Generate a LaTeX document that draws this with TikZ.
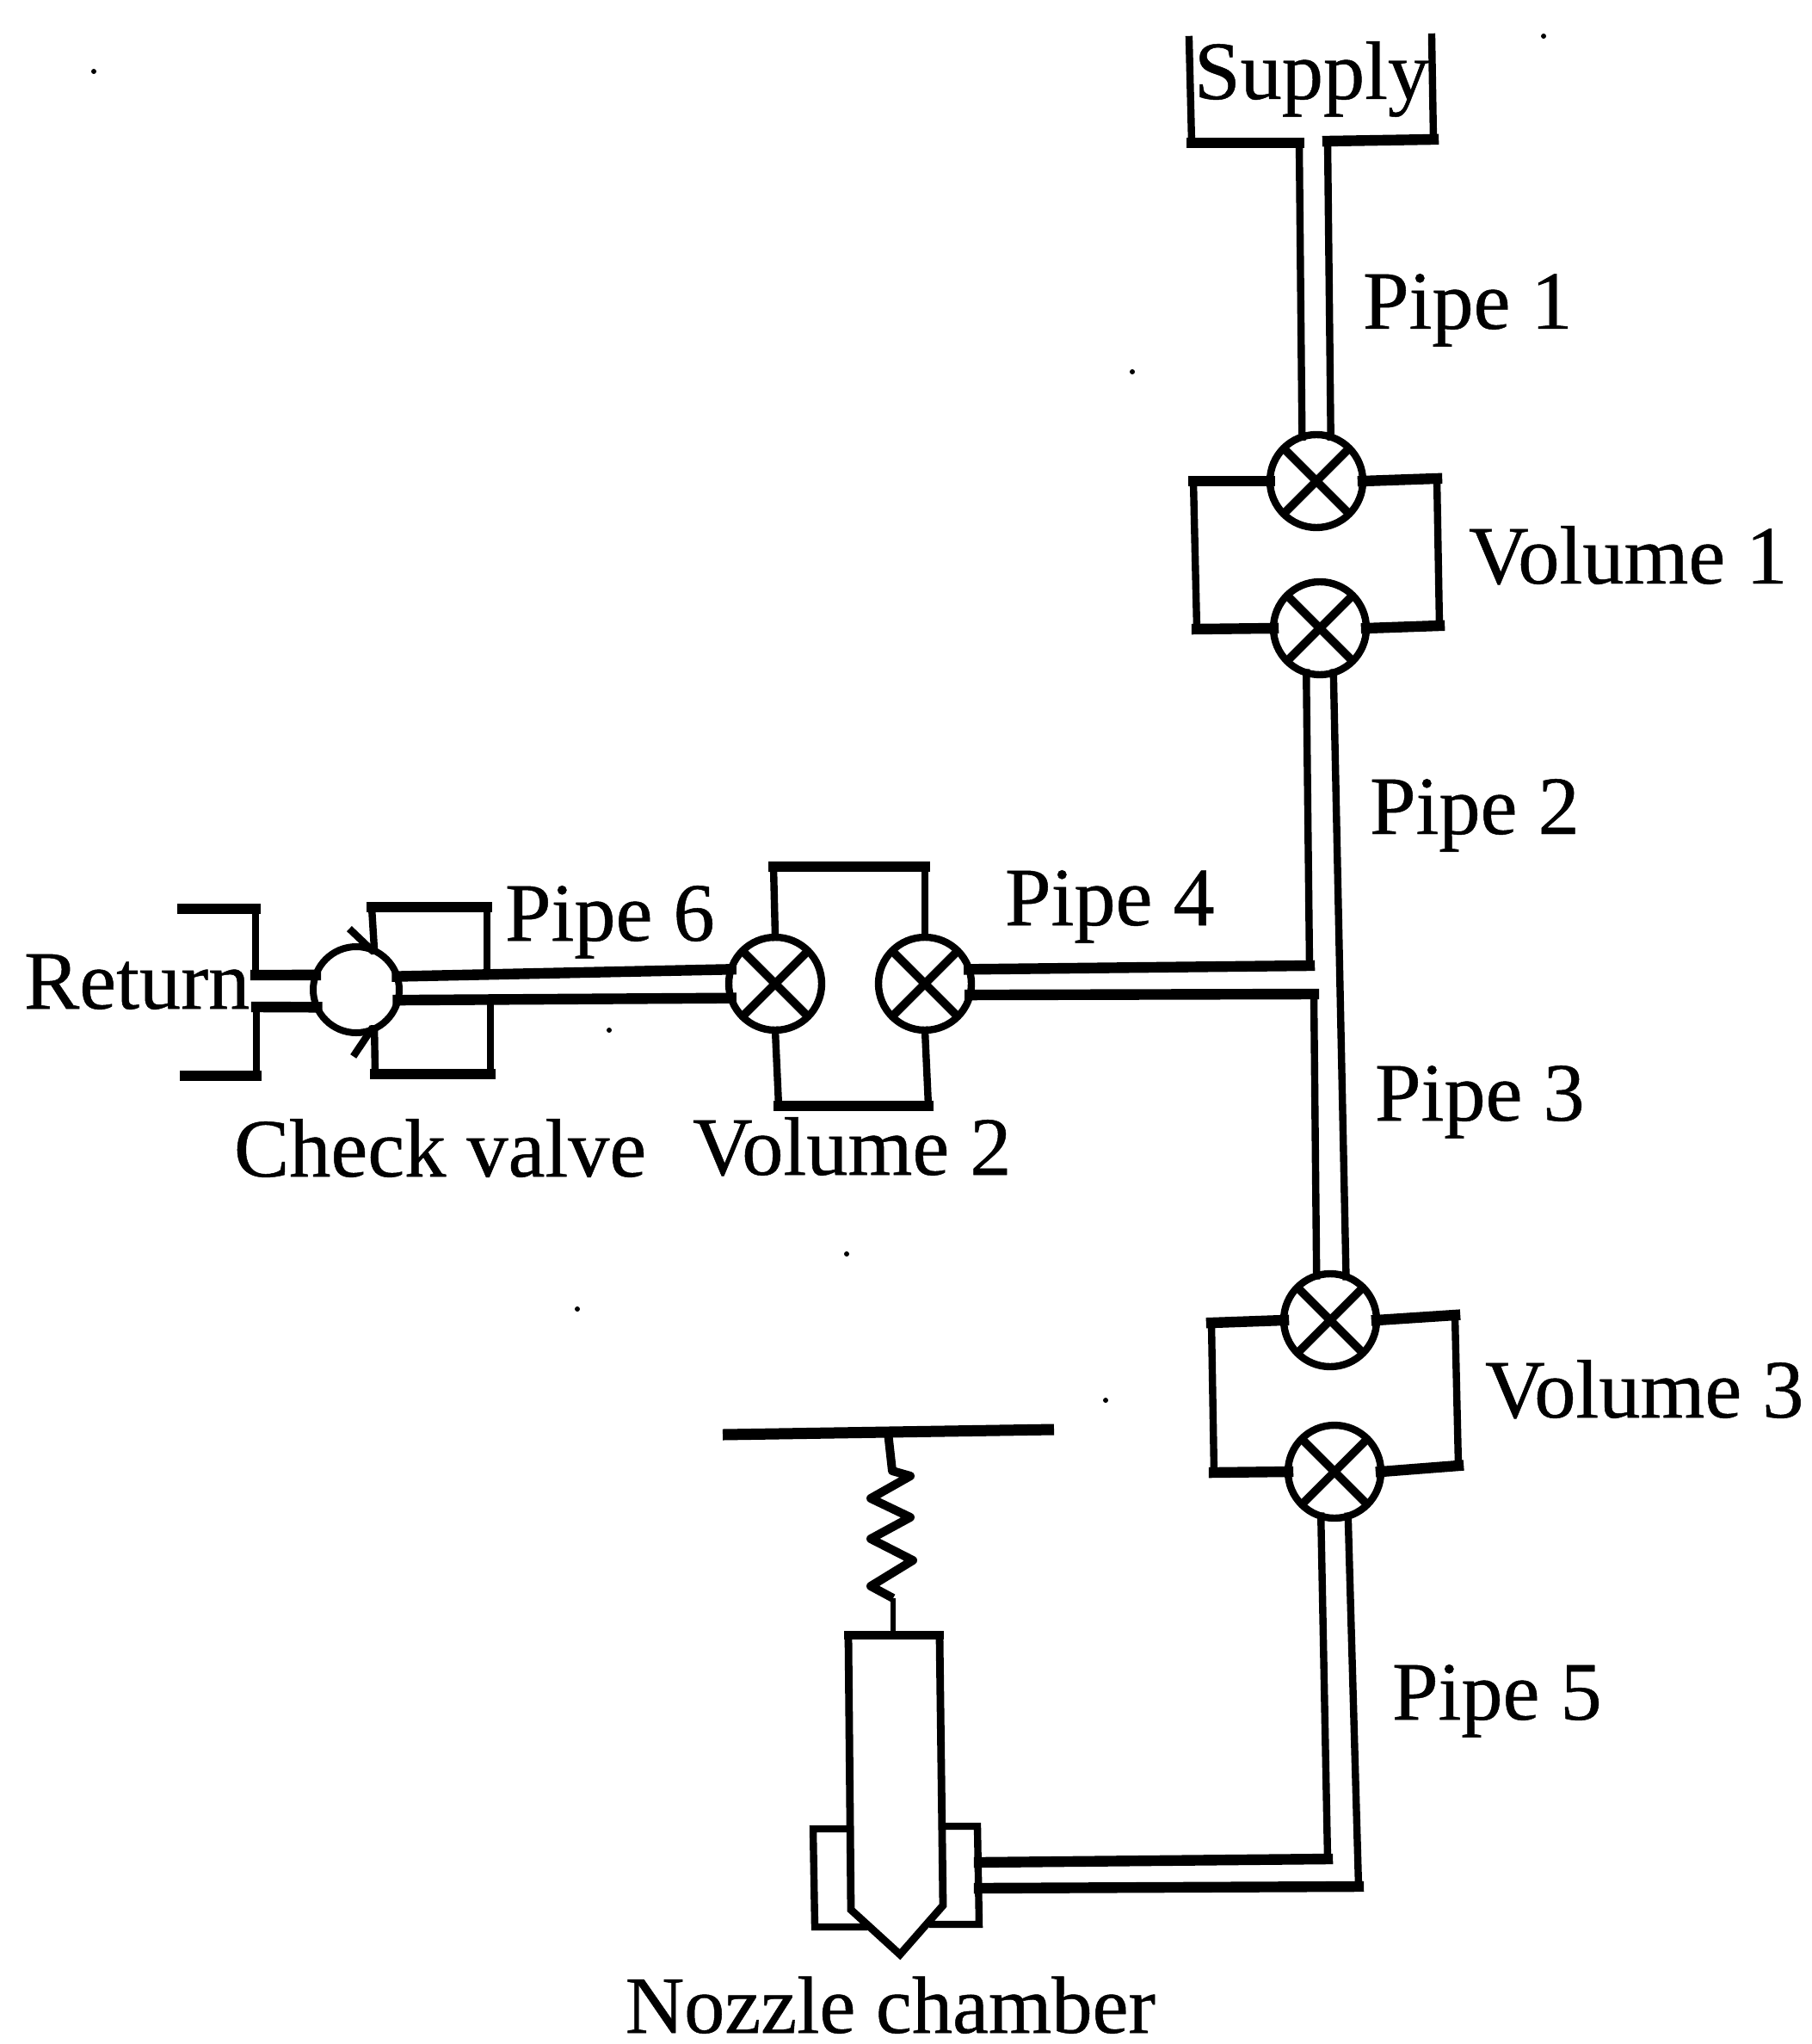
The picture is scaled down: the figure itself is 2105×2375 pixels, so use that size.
\documentclass[tikz,border=0pt]{standalone}
\usepackage{fontspec}
\setmainfont[FakeBold=0.5]{Liberation Serif}
\begin{document}
\begin{tikzpicture}[x=0.5pt,y=-0.5pt,
  hline/.style={line width=6.2pt,line cap=rect,black},
  vline/.style={line width=4.2pt,line cap=rect,black},
  valve/.style={circle,draw=black,line width=4.2pt,inner sep=0pt,outer sep=0pt,minimum size=54pt,fill=white,
    path picture={\draw[line width=4.8pt,black] (path picture bounding box.north west)--(path picture bounding box.south east)
      (path picture bounding box.north east)--(path picture bounding box.south west);}},
  checkv/.style={circle,draw=black,line width=4pt,inner sep=0pt,outer sep=0pt,minimum size=50pt,fill=white},
  lab/.style={anchor=base west,inner sep=0pt,outer sep=0pt,font=\fontsize{48.2}{52}\selectfont},
  lablow/.style={lab,font=\fontsize{47.2}{50}\selectfont},
  speck/.style={circle,fill=black,inner sep=0pt,minimum size=3pt}]
\useasboundingbox (0,0) rectangle (2105,2375);
\fill[white] (0,0) rectangle (2105,2375);

% valves
\node[valve] (va) at (1530,559) {};
\node[valve] (vb) at (1534,730) {};
\node[valve] (vc) at (901,1143) {};
\node[valve] (vd) at (1075,1143) {};
\node[valve] (ve) at (1546,1534) {};
\node[valve] (vf) at (1551,1710) {};
\node[checkv] (cv) at (414,1150) {};

% supply
\coordinate (s1) at (1382,46); \coordinate (s2) at (1385,166);
\coordinate (s3) at (1510,166); \coordinate (s4) at (1543,164);
\coordinate (s5) at (1666,162); \coordinate (s6) at (1664,43);
\draw[vline] (s1)--(s2); \draw[vline] (s5)--(s6);
\draw[hline] (s2)--(s3); \draw[hline] (s4)--(s5);
% pipe 1
\draw[vline] (s3)--(va.108); \draw[vline] (s4)--(va.72);

% volume 1
\coordinate (a1) at (1387,559); \coordinate (a2) at (1670,556);
\coordinate (a3) at (1391,731); \coordinate (a4) at (1673,727);
\draw[hline] (va.west)--(a1); \draw[hline] (va.east)--(a2);
\draw[hline] (vb.west)--(a3); \draw[hline] (vb.east)--(a4);
\draw[vline] (a1)--(a3); \draw[vline] (a2)--(a4);

% pipes 2, 3
\coordinate (j1) at (1522,1122); \coordinate (j2) at (1527,1155);
\draw[vline] (vb.253)--(j1);
\draw[vline] (j2)--(ve.107);
\draw[vline] (vb.287)--(ve.70);

% pipe 4
\draw[hline] (vd.18)--(j1);
\draw[hline] (vd.-14)--(j2);

% volume 2
\coordinate (b1) at (899,1007); \coordinate (b2) at (1075,1007);
\coordinate (b3) at (905,1285); \coordinate (b4) at (1079,1285);
\draw[vline] (vc.north)--(b1); \draw[vline] (vd.north)--(b2);
\draw[vline] (vc.south)--(b3); \draw[vline] (vd.south)--(b4);
\draw[hline] (b1)--(b2); \draw[hline] (b3)--(b4);

% pipe 6
\draw[hline] (cv.18)--(vc.162);
\draw[hline] (cv.-14)--(vc.198);

% return
\coordinate (r1) at (212,1056); \coordinate (r2) at (297,1056);
\coordinate (r3) at (297,1133); \coordinate (r4) at (298,1170);
\coordinate (r5) at (298,1250); \coordinate (r6) at (215,1250);
\draw[hline] (r1)--(r2); \draw[vline] (r2)--(r3);
\draw[hline] (r3)--(cv.160);
\draw[hline] (r4)--(cv.204);
\draw[vline] (r4)--(r5); \draw[hline] (r5)--(r6);

% check valve box
\coordinate (c1) at (432,1054); \coordinate (c2) at (566,1054);
\coordinate (c3) at (566,1128); \coordinate (c4) at (436,1248);
\coordinate (c5) at (570,1248); \coordinate (c6) at (570,1167);
\coordinate (c7) at (409,1082); \coordinate (c8) at (413,1224);
\draw[vline] (cv.65)--(c1); \draw[hline] (c1)--(c2); \draw[vline] (c2)--(c3);
\draw[vline] (cv.-65)--(c4); \draw[hline] (c4)--(c5); \draw[vline] (c5)--(c6);
\draw[vline] (c7)--(cv.70);
\draw[vline] (c8)--(cv.-70);

% volume 3
\coordinate (e1) at (1408,1537); \coordinate (e2) at (1691,1528);
\coordinate (e3) at (1411,1711); \coordinate (e4) at (1695,1703);
\draw[hline] (ve.west)--(e1); \draw[hline] (ve.east)--(e2);
\draw[hline] (vf.west)--(e3); \draw[hline] (vf.east)--(e4);
\draw[vline] (e1)--(e3); \draw[vline] (e2)--(e4);

% pipe 5
\coordinate (p1) at (1543,2160); \coordinate (p2) at (1579,2192);
\coordinate (ch1) at (1138,2164); \coordinate (ch2) at (1138,2194);
\draw[vline] (vf.253)--(p1); \draw[vline] (vf.287)--(p2);
\draw[hline] (p1)--(ch1); \draw[hline] (p2)--(ch2);

% plate and spring
\coordinate (t1) at (840,1667); \coordinate (t2) at (1225,1661);
\coordinate (t3) at (1032,1664);
\coordinate (n0) at (1038,1900);
\draw[line width=6.5pt,black] (t1)--(t2);
\draw[line width=5pt,black,line join=round] (t3)--(1037,1709)--(1058,1715)--(1012,1741)--(1058,1763)--(1012,1788)--(1061,1813)--(1012,1843)--(1038,1857);
\draw[line width=3.4pt,black] (1038,1857)--(n0);

% needle
\draw[line width=4.4pt,black,line join=miter] (986,1900)--(1092,1900)--(1096,2214)--(1046,2271)--(989,2219)--cycle;
\draw[hline,line width=5pt] (986,1900)--(1092,1900);

% chamber
\draw[vline] (984,2125)--(945,2125)--(947,2239)--(1004,2239);
\draw[vline] (1096,2122)--(1136,2122)--(1138,2236)--(1084,2236);

% specks
\node[speck] (d1) at (109,83) {};
\node[speck] (d2) at (1794,42) {};
\node[speck] (d3) at (1316,432) {};
\node[speck] (d4) at (708,1197) {};
\node[speck] (d5) at (984,1457) {};
\node[speck] (d6) at (671,1521) {};
\node[speck] (d7) at (1285,1627) {};

% labels
\node[lab] (lsupply) at (1388,115) {Supply};
\node[lab] (lp1) at (1584,382) {Pipe 1};
\node[lab] (lv1) at (1707,678) {Volume 1};
\node[lab] (lp2) at (1592,969) {Pipe 2};
\node[lab] (lp3) at (1598,1302) {Pipe 3};
\node[lab] (lp4) at (1168,1075) {Pipe 4};
\node[lab] (lp6) at (587,1093) {Pipe 6};
\node[lab] (lret) at (28,1172) {Return};
\node[lab] (lcv) at (272,1367) {Check valve};
\node[lab] (lv2) at (805,1365) {Volume 2};
\node[lab] (lv3) at (1726,1647) {Volume 3};
\node[lab] (lp5) at (1618,1998) {Pipe 5};
\node[lablow] (lnz) at (727,2362) {Nozzle chamber};
\end{tikzpicture}
\end{document}
